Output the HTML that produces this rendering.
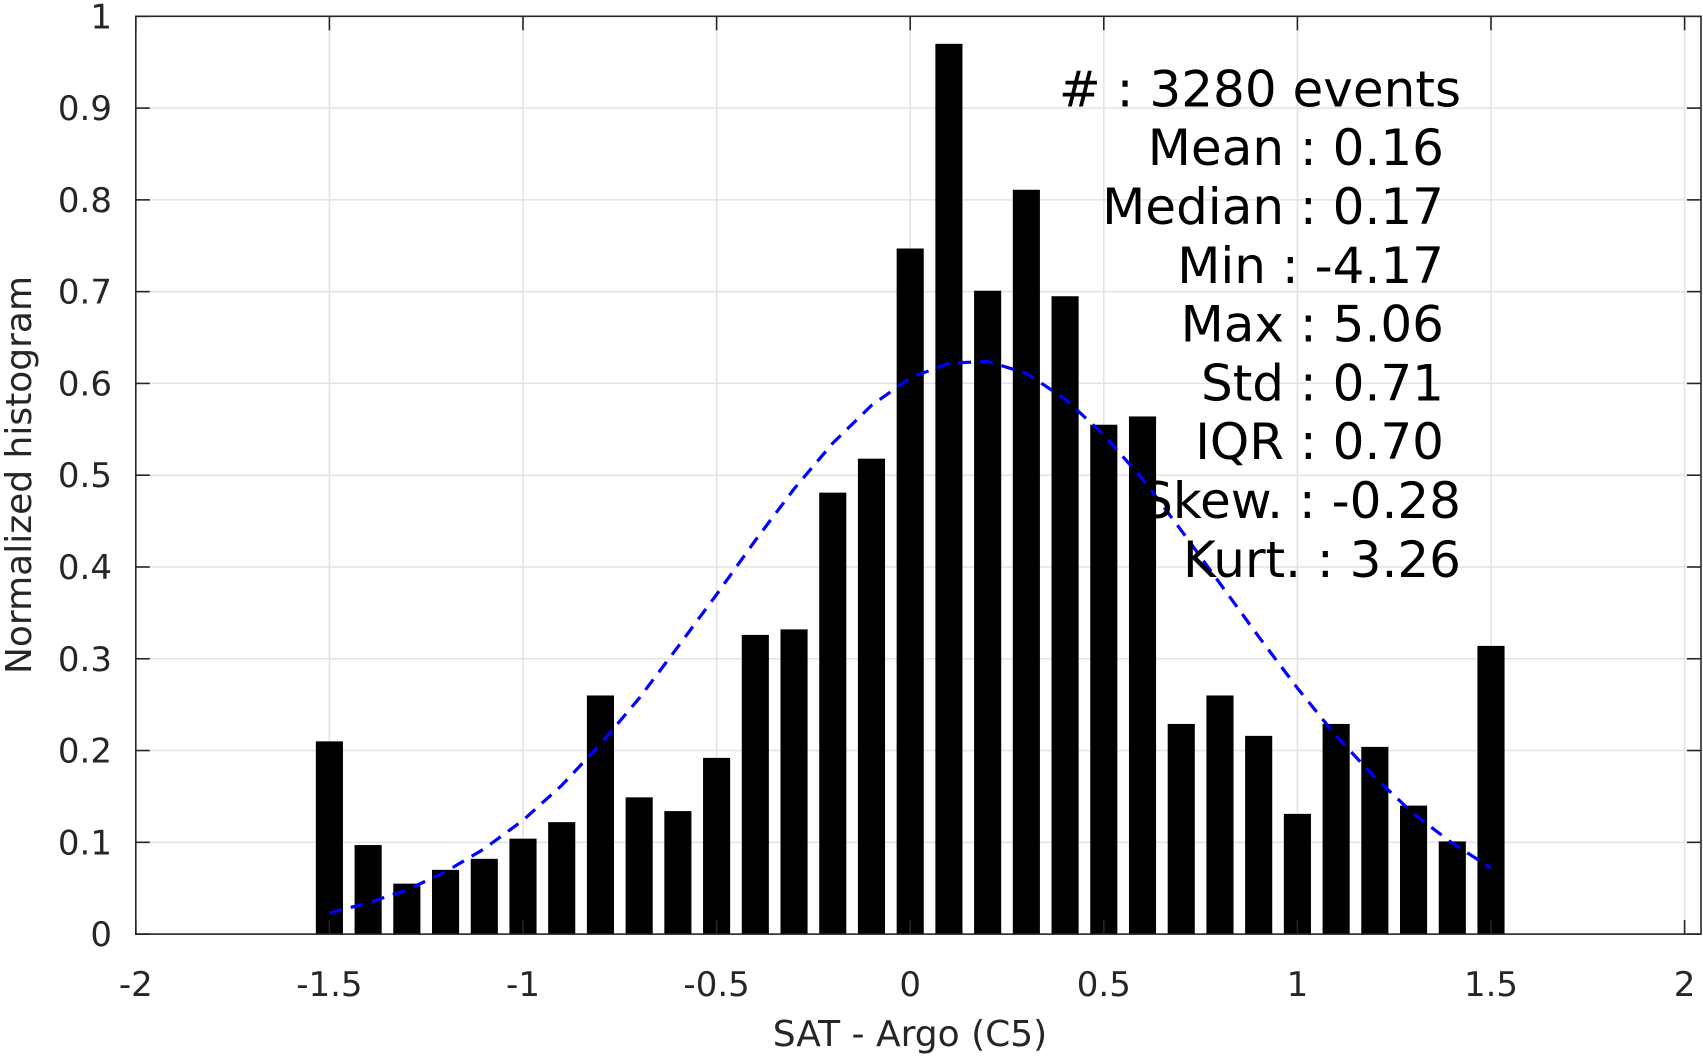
<!DOCTYPE html>
<html><head><meta charset="utf-8"><style>
html,body{margin:0;padding:0;background:#fff;}
svg{display:block;font-family:"DejaVu Sans","Liberation Sans",sans-serif;}
</style></head><body>
<svg id="chart" width="1703" height="1056" viewBox="0 0 1703 1056" xmlns="http://www.w3.org/2000/svg">
<g id="grid"></g>
<g id="bars"></g>
<g id="fit"></g>
<g id="axes"></g>
<g id="stats"></g>
<text x="910" y="1046" font-size="36" text-anchor="middle" fill="#262626">SAT - Argo (C5)</text>
<text transform="translate(31,475) rotate(-90)" font-size="36" text-anchor="middle" fill="#262626">Normalized histogram</text>
</svg>
<script>
const binCenters = [-1.5,-1.4,-1.3,-1.2,-1.1,-1.0,-0.9,-0.8,-0.7,-0.6,-0.5,-0.4,-0.3,-0.2,-0.1,0,0.1,0.2,0.3,0.4,0.5,0.6,0.7,0.8,0.9,1.0,1.1,1.2,1.3,1.4,1.5];
const binValues = [0.21,0.097,0.055,0.07,0.082,0.104,0.122,0.26,0.149,0.134,0.192,0.326,0.332,0.481,0.518,0.747,0.97,0.701,0.811,0.695,0.555,0.564,0.229,0.26,0.216,0.131,0.229,0.204,0.14,0.101,0.314];
const fitValues = [0.023,0.034,0.048,0.068,0.093,0.124,0.162,0.207,0.257,0.313,0.370,0.429,0.485,0.535,0.576,0.606,0.622,0.624,0.611,0.583,0.544,0.496,0.440,0.382,0.324,0.268,0.216,0.171,0.131,0.099,0.072];
const xTicks = [-2,-1.5,-1,-0.5,0,0.5,1,1.5,2];
const xTickLabels = ["-2","-1.5","-1","-0.5","0","0.5","1","1.5","2"];
const yTicks = [0,0.1,0.2,0.3,0.4,0.5,0.6,0.7,0.8,0.9,1];
const yTickLabels = ["0","0.1","0.2","0.3","0.4","0.5","0.6","0.7","0.8","0.9","1"];
const statLines = ["#  : 3280 events","Mean : 0.16","Median : 0.17","Min : -4.17","Max : 5.06","Std : 0.71","IQR : 0.70","Skew. : -0.28","Kurt. : 3.26"];
const statRight = [1461,1444,1444,1444,1444,1444,1444,1461,1461];

const NS="http://www.w3.org/2000/svg";
const L=135.8,R=1701,T=16.3,B=934.1;
const xs=v=>L+(v+2)*387.2;
const ys=v=>B-v*(B-T);
function mk(tag,parent,attrs){const e=document.createElementNS(NS,tag);for(const k in attrs)e.setAttribute(k,attrs[k]);parent.appendChild(e);return e;}
const grid=document.getElementById('grid'),bars=document.getElementById('bars'),fit=document.getElementById('fit'),axes=document.getElementById('axes'),stats=document.getElementById('stats');
xTicks.forEach(t=>{const g=mk('line',grid,{x1:xs(t),x2:xs(t),y1:T,y2:B,stroke:'#e3e3e3','stroke-width':1.5});

});
yTicks.forEach(t=>{const g=mk('line',grid,{x1:L,x2:R,y1:ys(t),y2:ys(t),stroke:'#e3e3e3','stroke-width':1.5});

});
const bw=0.07*387.2;
binCenters.forEach((c,i)=>{const r=mk('rect',bars,{x:xs(c)-bw/2,y:ys(binValues[i]),width:bw,height:B-ys(binValues[i]),fill:'#000'});

});
const pts=binCenters.map((c,i)=>xs(c).toFixed(1)+','+ys(fitValues[i]).toFixed(1)).join(' ');
const pl=mk('polyline',fit,{points:pts,fill:'none',stroke:'#0000ff','stroke-width':3.2,'stroke-dasharray':'13,9'});


const frame=mk('rect',axes,{x:L,y:T,width:R-L,height:B-T,fill:'none',stroke:'#262626','stroke-width':1.6});


xTicks.forEach((t,i)=>{const x=xs(t);
mk('line',axes,{x1:x,x2:x,y1:B,y2:B-14,stroke:'#262626','stroke-width':1.6});
mk('line',axes,{x1:x,x2:x,y1:T,y2:T+14,stroke:'#262626','stroke-width':1.6});
const tx=mk('text',axes,{x:x,y:996,'font-size':34,'text-anchor':'middle',fill:'#262626'});
tx.textContent=xTickLabels[i];

});
yTicks.forEach((t,i)=>{const y=ys(t);
mk('line',axes,{x1:L,x2:L+14,y1:y,y2:y,stroke:'#262626','stroke-width':1.6});
mk('line',axes,{x1:R,x2:R-14,y1:y,y2:y,stroke:'#262626','stroke-width':1.6});
const tx=mk('text',axes,{x:112,y:y+12,'font-size':34,'text-anchor':'end',fill:'#262626'});
tx.textContent=yTickLabels[i];

});
statLines.forEach((s,i)=>{const tx=mk('text',stats,{x:statRight[i],y:106.4+i*58.8,'font-size':50,'text-anchor':'end',fill:'#000','xml:space':'preserve'});
tx.textContent=s;

});
</script>
</body></html>
